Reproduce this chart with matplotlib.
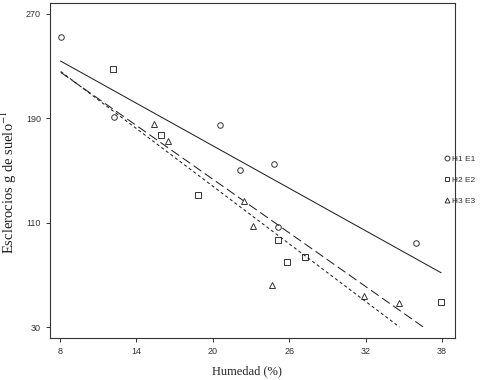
import numpy as np
import matplotlib
matplotlib.use("Agg")
import matplotlib.pyplot as plt
from matplotlib.lines import Line2D

# Data
h1_x = [8.05, 12.27, 20.55, 22.14, 24.8, 25.1, 35.97]
h1_y = [252.6, 190.9, 185.2, 150.0, 154.9, 106.7, 94.4]
h2_x = [12.14, 15.96, 18.86, 25.1, 25.8, 27.27, 37.93]
h2_y = [227.6, 177.4, 131.2, 97.0, 79.9, 83.4, 49.0]
h3_x = [15.36, 16.48, 22.43, 23.14, 24.63, 31.86, 34.63]
h3_y = [185.8, 172.5, 126.3, 107.1, 62.5, 53.5, 48.2]
labels = ["H1 E1", "H2 E2", "H3 E3"]
x_ticks = [8, 14, 20, 26, 32, 38]
y_ticks = [30, 110, 190, 270]

fig = plt.figure(figsize=(5.01, 3.8), dpi=100)
ax = fig.add_axes([50/501, 1-338/380, 405/501, 335/380])

markers = ["o", "s", "^"]
dashes = [None, (9, 4), (3, 2.5)]
series = [(h1_x, h1_y), (h2_x, h2_y), (h3_x, h3_y)]
all_x = h1_x + h2_x + h3_x
xmin, xmax = min(all_x), max(all_x)
ymin_clip = 30

for (xs, ys), m, d in zip(series, markers, dashes):
    ax.plot(xs, ys, linestyle="none", marker=m, markersize=4,
            markerfacecolor="white", markeredgecolor="#333333", markeredgewidth=0.7)
    k, b = np.polyfit(xs, ys, 1)
    x_end = xmax
    if k * xmax + b < ymin_clip:
        x_end = (ymin_clip - b) / k
    lx = np.array([xmin, x_end])
    ly = k * lx + b
    if d is None:
        ax.plot(lx, ly, color="#222222", linewidth=0.75)
    else:
        ax.plot(lx, ly, color="#222222", linewidth=0.75, dashes=d)

ax.set_xlim(7.21, 39.03)
ax.set_ylim(21.6, 278.4)
ax.set_xticks(x_ticks)
ax.set_yticks(y_ticks)
ax.tick_params(direction="out", length=3, width=0.7, labelsize=6.5,
               colors="#333333", labelcolor="#333333")
for lab in ax.get_xticklabels() + ax.get_yticklabels():
    lab.set_family("Liberation Sans")
for s in ax.spines.values():
    s.set_linewidth(0.8)
    s.set_color("#333333")

fig.text(9/501, 1-182/380, "Esclerocios g de suelo$^{-1}$", rotation=90,
         ha="center", va="center", fontsize=10.5, family="Liberation Serif",
         math_fontfamily="stix", color="#222222")
fig.text(247/501, 1-371/380, "Humedad (%)", ha="center", va="center",
         fontsize=9, family="Liberation Serif", color="#222222")

handles = [Line2D([], [], linestyle="none", marker=m, markersize=3.5,
                  markerfacecolor="white", markeredgecolor="#333333",
                  markeredgewidth=0.7) for m in markers]
leg = fig.legend(handles, labels, loc="center left",
                 bbox_to_anchor=(444/501, 1-180/380), frameon=False,
                 prop={"family": "Liberation Sans", "size": 6},
                 handlelength=0.6, handletextpad=0.3, labelspacing=1.6,
                 borderpad=0, borderaxespad=0)
for t in leg.get_texts():
    t.set_color("#333333")

fig.savefig("out.png", dpi=100)
